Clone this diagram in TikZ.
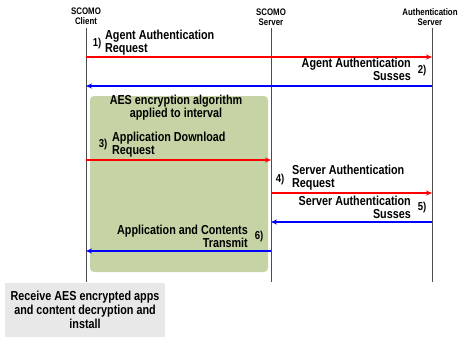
\documentclass[tikz,border=0pt]{standalone}
\usepackage{fontspec}
\setmainfont{Liberation Sans}[FakeStretch=0.83]
\usetikzlibrary{arrows.meta}
\begin{document}
\begin{tikzpicture}[x=1pt,y=-1pt,
  head/.style={font=\bfseries\fontsize{9.5}{10}\selectfont, align=center, inner sep=0pt, text=black},
  life/.style={draw=black!70, line width=0.7pt},
  msg/.style={font=\bfseries\fontsize{13}{12.8}\selectfont, inner sep=0pt, text=black},
  num/.style={font=\bfseries\fontsize{11.5}{12}\selectfont, inner sep=0pt},
  req/.style={draw=red, line width=1.4pt, -{Stealth[length=6pt,width=5pt]}},
  rsp/.style={draw=blue, line width=1.4pt, -{Stealth[length=6pt,width=5pt]}},
  note/.style={fill=black!9, draw=none, align=center, inner sep=0pt,
    font=\bfseries\fontsize{13}{14}\selectfont}
]
\useasboundingbox (0,0) rectangle (462,337);

% green encryption zone
\fill[fill={rgb,255:red,197;green,211;blue,165}, rounded corners=4pt] (90,96) rectangle (268,272);

% participants
\node[head] (cl) at (86,16) {SCOMO\\Client};
\node[head] (sv) at (271,17) {SCOMO\\Server};
\node[head] (au) at (430,17) {Authentication\\Server};

% lifeline ends
\coordinate (clE) at (86,282);
\coordinate (svE) at (271,282);
\coordinate (auE) at (432,282);
\draw[life] (86,28) -- (clE);
\draw[life] (271,28) -- (svE);
\draw[life] (432,28) -- (auE);

% message points on lifelines
\coordinate (c1) at (86,57);  \coordinate (a1) at (432,57);
\coordinate (a2) at (432,86); \coordinate (c2) at (86,86);
\coordinate (c3) at (86,160); \coordinate (s3) at (271,160);
\coordinate (s4) at (271,193);\coordinate (a4) at (432,193);
\coordinate (a5) at (432,222);\coordinate (s5) at (271,222);
\coordinate (s6) at (271,251);\coordinate (c6) at (86,251);

\draw[req] (c1) -- (a1);
\draw[rsp] (a2) -- (c2);
\draw[req] (c3) -- (s3);
\draw[req] (s4) -- (a4);
\draw[rsp] (a5) -- (s5);
\draw[rsp] (s6) -- (c6);

% message labels
\node[num] (n1) at (97,44) {1)};
\node[msg, anchor=south west, align=left] (t1) at (105,55) {Agent Authentication\\Request};
\node[num] (n2) at (422,71) {2)};
\node[msg, anchor=south east, align=right] (t2) at (411,81) {Agent Authentication\\Susses};
\node[msg, align=center] (zt) at (176,108) {AES encryption algorithm\\applied to interval};
\node[num] (n3) at (103,145) {3)};
\node[msg, anchor=south west, align=left] (t3) at (112,157) {Application Download\\Request};
\node[num] (n4) at (280,180) {4)};
\node[msg, anchor=south west, align=left] (t4) at (292,190) {Server Authentication\\Request};
\node[num] (n5) at (422,208) {5)};
\node[msg, anchor=south east, align=right] (t5) at (411,219) {Server Authentication\\Susses};
\node[num] (n6) at (259,237) {6)};
\node[msg, anchor=south east, align=right] (t6) at (248,248) {Application and Contents\\Transmit};

% client side note
\node[note, minimum width=160pt, minimum height=54pt] (rx) at (85,310)
  {Receive AES encrypted apps\\and content decryption and\\install};
\end{tikzpicture}
\end{document}
